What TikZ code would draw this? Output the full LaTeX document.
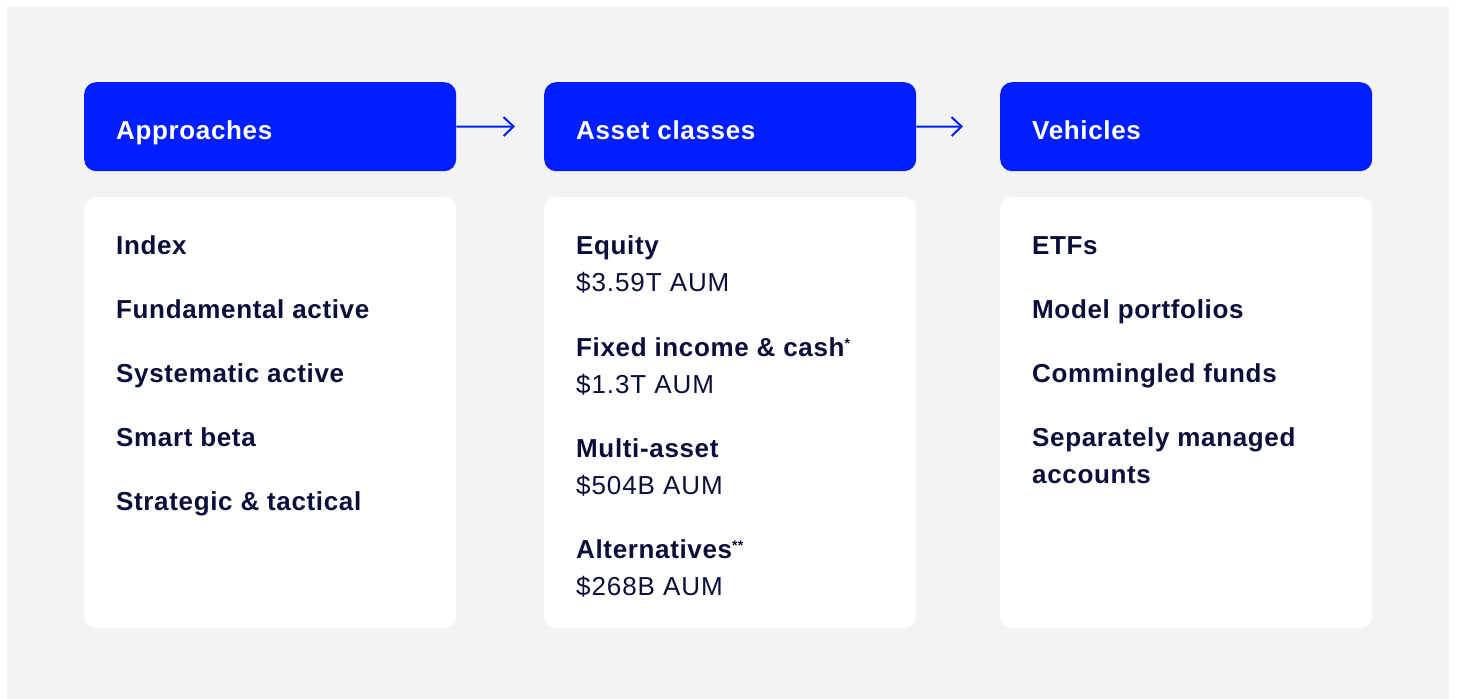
\documentclass[tikz,border=0pt]{standalone}
\usepackage{fontspec}
\setmainfont{Liberation Sans}[LetterSpace=2.5]
\newfontfamily\valuefont{Liberation Sans}[LetterSpace=3.5]
\usetikzlibrary{arrows.meta}
\definecolor{brandblue}{HTML}{001EFF}
\definecolor{panelgray}{HTML}{F3F3F3}
\definecolor{inknavy}{HTML}{0B0E3B}
\newcommand{\footmark}[1]{\raisebox{8pt}{\fontsize{14}{14}\selectfont #1}}
\tikzset{
  headbox/.style={fill=brandblue, draw=none, rounded corners=12pt, anchor=north west,
    minimum width=372pt, minimum height=89pt, inner sep=0pt},
  bodybox/.style={fill=white, draw=none, rounded corners=12pt, anchor=north west,
    minimum width=372pt, minimum height=431pt, inner sep=0pt},
  headtext/.style={anchor=base west, inner sep=0pt, text=white,
    font=\fontsize{26}{30}\selectfont\bfseries},
  itemtext/.style={anchor=base west, inner sep=0pt, text=inknavy,
    font=\fontsize{26}{30}\selectfont\bfseries},
  valuetext/.style={anchor=base west, inner sep=0pt, text=inknavy,
    font=\fontsize{26}{30}\selectfont\valuefont},
  flow/.style={draw=brandblue, line width=2pt,
    -{Straight Barb[length=10pt, width=19pt, line width=2pt]}},
}
\begin{document}
\begin{tikzpicture}[x=1pt, y=-1pt]
  \useasboundingbox (0,0) rectangle (1457,699);
  \fill[panelgray] (7,7) rectangle (1449,699);

  % column frames
  \node[headbox] (hA) at (84,82) {};
  \node[headbox] (hB) at (544,82) {};
  \node[headbox] (hC) at (1000,82) {};
  \node[bodybox] (bA) at (84,197) {};
  \node[bodybox] (bB) at (544,197) {};
  \node[bodybox] (bC) at (1000,197) {};

  % flow arrows between headers
  \coordinate (eB) at (515,126.5);
  \coordinate (eC) at (963,126.5);
  \draw[flow] (hA.east) -- (eB);
  \draw[flow] (hB.east) -- (eC);

  % header titles
  \node[headtext] (tA) at (116,139) {Approaches};
  \node[headtext] (tB) at (576,139) {Asset classes};
  \node[headtext] (tC) at (1032,139) {Vehicles};

  % approaches
  \node[itemtext] (a1) at (116,254) {Index};
  \node[itemtext] (a2) at (116,318) {Fundamental active};
  \node[itemtext] (a3) at (116,382) {Systematic active};
  \node[itemtext] (a4) at (116,446) {Smart beta};
  \node[itemtext] (a5) at (116,510) {Strategic \& tactical};

  % asset classes
  \node[itemtext] (b1) at (576,254) {Equity};
  \node[valuetext] (v1) at (576,291) {\$3.59T AUM};
  \node[itemtext] (b2) at (576,356) {Fixed income \& cash\footmark{*}};
  \node[valuetext] (v2) at (576,393) {\$1.3T AUM};
  \node[itemtext] (b3) at (576,457) {Multi-asset};
  \node[valuetext] (v3) at (576,494) {\$504B AUM};
  \node[itemtext] (b4) at (576,558) {Alternatives\footmark{**}};
  \node[valuetext] (v4) at (576,595) {\$268B AUM};

  % vehicles
  \node[itemtext] (c1) at (1032,254) {ETFs};
  \node[itemtext] (c2) at (1032,318) {Model portfolios};
  \node[itemtext] (c3) at (1032,382) {Commingled funds};
  \node[itemtext] (c4) at (1032,446) {Separately managed};
  \node[itemtext] (c5) at (1032,483) {accounts};
\end{tikzpicture}
\end{document}
